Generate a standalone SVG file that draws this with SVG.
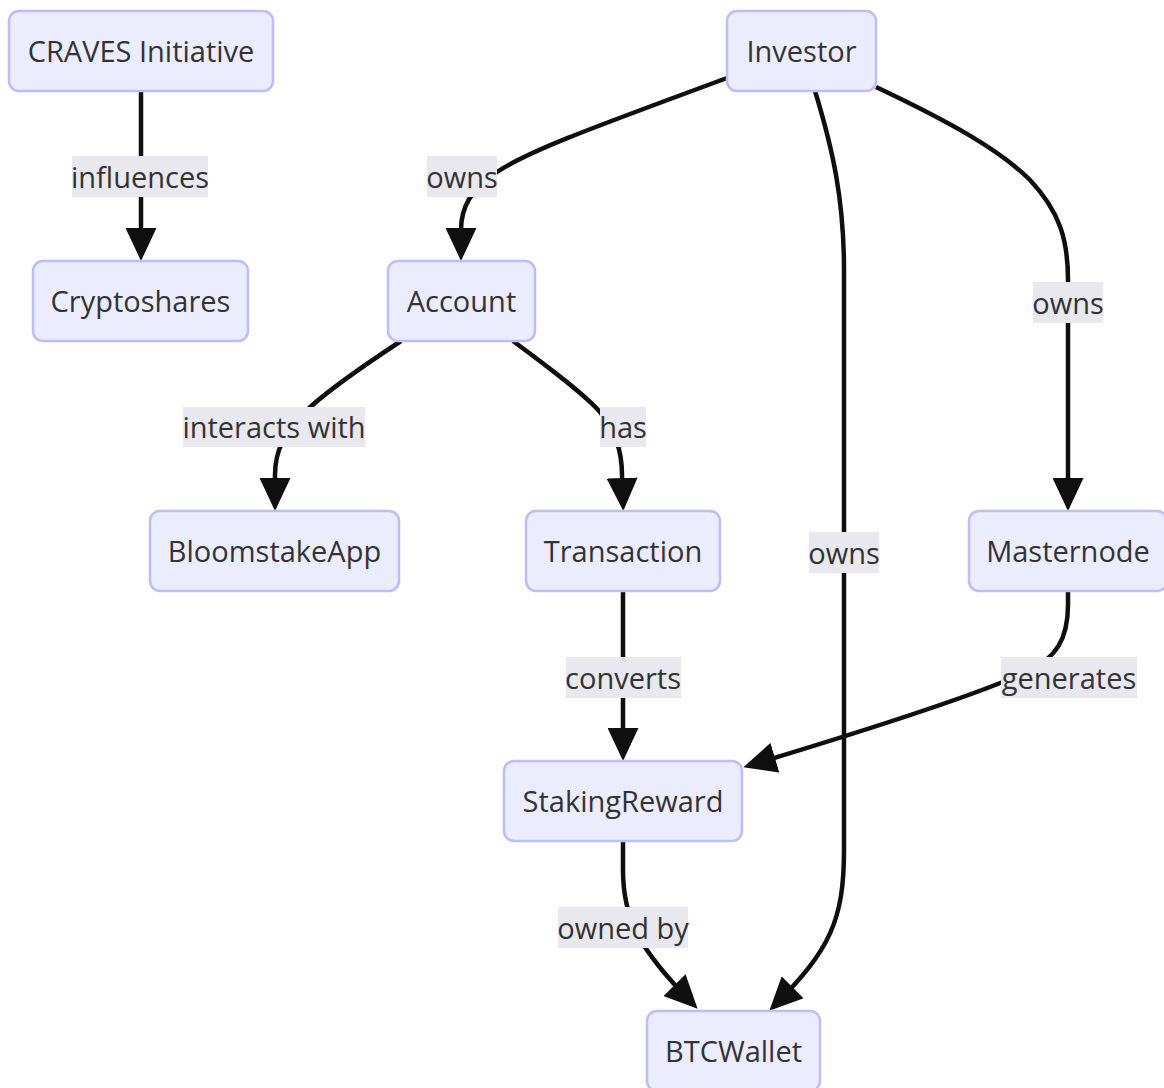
<svg xmlns="http://www.w3.org/2000/svg" width="1164" height="1088" viewBox="0 0 1164 1088">
  <style>
    .node rect { fill: #ECECFF; stroke: #BDBDF8; stroke-width: 2.5; }
    .node text { font-family: "Open Sans", "Noto Sans", "Liberation Sans", sans-serif; font-size: 29px; fill: #333333; text-anchor: middle; dominant-baseline: central; }
    .edge { fill: none; stroke: #0f0f0f; stroke-width: 4.5; marker-end: url(#arrow); }
    .elabel rect { fill: #E8E8EE; }
    .elabel text { font-family: "Open Sans", "Noto Sans", "Liberation Sans", sans-serif; font-size: 29px; fill: #333333; text-anchor: middle; dominant-baseline: central; }
  </style>
  <defs>
    <marker id="arrow" viewBox="0 0 33 31" markerUnits="userSpaceOnUse" markerWidth="33" markerHeight="31" refX="25" refY="15.5" orient="auto">
      <path d="M0,0 L33,15.5 L0,31 z" fill="#0f0f0f"/>
    </marker>
  </defs>
  <rect width="1164" height="1088" fill="#ffffff"/>

  <g id="connectors">
    <path class="edge" d="M141,91 L141,253"/>
    <path class="edge" d="M727,78 C600,125 530,150 497,172 C470,190 461,208 461,230 L461,253"/>
    <path class="edge" d="M815,91 C833,150 844,200 844,270 L844,850 C844,920 830,950 775,1005"/>
    <path class="edge" d="M876,87 C950,122 1000,150 1030,180 C1060,212 1068,240 1068,280 L1068,503"/>
    <path class="edge" d="M401,341 C360,368 325,392 305,412 C285,432 275,450 275,475 L275,503"/>
    <path class="edge" d="M513,341 C555,372 585,395 600,412 C615,430 622,450 622,475 L623,503"/>
    <path class="edge" d="M623,591 L623,753"/>
    <path class="edge" d="M1068,591 L1068,605 C1068,640 1055,658 1030,670 C990,690 900,720 751,765"/>
    <path class="edge" d="M623,841 L623,870 C623,920 640,950 692,1003"/>

    <g class="elabel"><rect x="72" y="156" width="136" height="41"/><text x="140" y="176">influences</text></g>
    <g class="elabel"><rect x="427" y="156" width="70" height="41"/><text x="462" y="176">owns</text></g>
    <g class="elabel"><rect x="1033" y="282" width="70" height="41"/><text x="1068" y="302">owns</text></g>
    <g class="elabel"><rect x="183" y="407" width="182" height="40"/><text x="274" y="426">interacts with</text></g>
    <g class="elabel"><rect x="600" y="407" width="46" height="40"/><text x="623" y="426">has</text></g>
    <g class="elabel"><rect x="809" y="532" width="70" height="41"/><text x="844" y="552">owns</text></g>
    <g class="elabel"><rect x="566" y="657" width="115" height="41"/><text x="623" y="677">converts</text></g>
    <g class="elabel"><rect x="1001" y="657" width="136" height="41"/><text x="1069" y="677">generates</text></g>
    <g class="elabel"><rect x="558" y="907" width="130" height="41"/><text x="623" y="927">owned by</text></g>
  </g>

  <g id="craves" class="node"><rect x="9" y="11" width="264" height="80" rx="10"/><text x="141" y="50">CRAVES Initiative</text></g>
  <g id="investor" class="node"><rect x="727" y="11" width="149" height="80" rx="10"/><text x="801.5" y="50">Investor</text></g>
  <g id="cryptoshares" class="node"><rect x="33" y="261" width="215" height="80" rx="10"/><text x="140.5" y="300">Cryptoshares</text></g>
  <g id="account" class="node"><rect x="388" y="261" width="147" height="80" rx="10"/><text x="461.5" y="300">Account</text></g>
  <g id="bloomstakeapp" class="node"><rect x="150" y="511" width="249" height="80" rx="10"/><text x="274.5" y="550">BloomstakeApp</text></g>
  <g id="transaction" class="node"><rect x="526" y="511" width="194" height="80" rx="10"/><text x="623" y="550">Transaction</text></g>
  <g id="masternode" class="node"><rect x="969" y="511" width="198" height="80" rx="10"/><text x="1068" y="550">Masternode</text></g>
  <g id="stakingreward" class="node"><rect x="504" y="761" width="238" height="80" rx="10"/><text x="623" y="800">StakingReward</text></g>
  <g id="btcwallet" class="node"><rect x="647" y="1011" width="173" height="80" rx="10"/><text x="733.5" y="1050">BTCWallet</text></g>
</svg>
